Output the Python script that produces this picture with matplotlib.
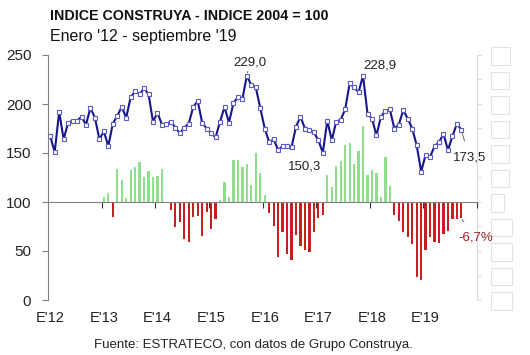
#importing library
import matplotlib.pyplot as plt
import matplotlib.transforms as mtransforms

plt.rcParams['font.family'] = ['Liberation Sans', 'DejaVu Sans']

#index values, monthly, January 2012 to September 2019

indice = [167, 151, 192, 164, 181, 183, 183, 187, 179, 196, 186, 164,
          172, 157, 180, 188, 197, 186, 207, 213, 210, 216, 210, 182,
          191, 179, 180, 182, 176, 170, 176, 180, 197, 203, 181, 175,
          170, 166, 182, 197, 181, 201, 207, 205, 229.0, 219, 217, 196,
          175, 161, 164, 153, 157, 157, 156, 177, 187, 175, 173, 171,
          163, 150.3, 183, 163, 182, 184, 194.5, 221, 217, 212, 228.9, 190,
          185, 168, 187, 193, 194.5, 175, 179, 193.6, 185, 175, 158, 131,
          148, 146, 157, 161, 169.5, 153, 167, 180, 173.5]

#year over year change in %, January 2013 to September 2019

variacion = [1.9, 3.8, -6.0, 13.4, 9.0, 1.5, 13.0, 14.1, 16.5, 10.1, 12.7, 10.4,
             10.7, 13.4, 0.0, -3.3, -10.4, -8.3, -15.2, -16.3, -6.0, -5.7, -13.9, -4.0,
             -11.1, -7.0, 0.7, 8.2, 1.9, 17.2, 17.2, 14.2, 15.6, 7.0, 20.2, 11.7,
             2.9, -4.5, -9.8, -22.4, -12.2, -21.3, -23.8, -13.5, -18.0, -19.7, -20.4, -12.2,
             -6.7, -5.5, 11.1, 6.3, 14.5, 16.9, 23.2, 24.0, 15.4, 20.8, 31.2, 11.1,
             13.0, 12.0, 2.0, 18.3, 6.5, -5.3, -7.7, -12.2, -14.2, -17.2, -30.6, -31.7,
             -19.7, -14.2, -16.3, -16.9, -13.1, -12.0, -6.8, -7.0, -6.7]

etiquetas_anio = ["E'12", "E'13", "E'14", "E'15", "E'16", "E'17", "E'18", "E'19"]

meses = list(range(len(indice)))
meses_var = meses[12:]

fig = plt.figure(figsize=(5.3, 3.55), dpi=100)
ax = fig.add_axes([48 / 530, 1 - 300 / 355, 429 / 530, 245 / 355])
ax2 = ax.twinx()

#bars of the yearly change on the right axis

colores = ['#8fdf8f' if v >= 0 else '#c81e1e' for v in variacion]
ax2.bar(meses_var, variacion, width=0.5, color=colores, linewidth=0)
ax2.set_ylim(-40, 60)
ax2.set_yticks(range(-40, 61, 10))
ax2.set_yticklabels(["%d" % t for t in range(-40, 61, 10)], fontsize=6.5)
for lab in ax2.get_yticklabels():
    lab.set_bbox(dict(facecolor='white', edgecolor='#e2e2e2', pad=3.2, lw=0.8))
ax2.tick_params(axis='y', colors='#dcdcdc', length=3, pad=10, labelcolor='white')
for s in ['top', 'left', 'bottom']:
    ax2.spines[s].set_visible(False)
ax2.spines['right'].set_color('#dcdcdc')

#index line on the left axis

ax.set_zorder(ax2.get_zorder() + 1)
ax.patch.set_visible(False)
ax.plot(meses, indice, color='#16168f', lw=1.5, marker='s', markersize=2.6,
        markerfacecolor='white', markeredgecolor='#5a5ac8', markeredgewidth=0.8)

ax.set_xlim(-0.5, 95.5)
ax.set_ylim(0, 250)
ax.set_yticks(range(0, 251, 50))
ax.tick_params(axis='y', colors='#808080', length=4, pad=8, labelsize=11, labelcolor='#222222')
ax.spines['left'].set_color('#808080')
ax.spines['top'].set_visible(False)
ax.spines['right'].set_visible(False)
ax.spines['bottom'].set_position(('data', 100))
ax.spines['bottom'].set_color('#808080')
ax.set_xticks([11.5 + 12 * k for k in range(8)])
ax.set_xticklabels([])
ax.tick_params(axis='x', colors='#333333', length=4, width=0.8)

trans = mtransforms.blended_transform_factory(ax.transData, ax.transAxes)
for k, lab in enumerate(etiquetas_anio):
    ax.text(12 * k, -0.075, lab, transform=trans, ha='center', va='center',
            fontsize=10.5, color='#222222')

#labels of the notable points

ax.annotate("229,0", (44, indice[44]), xytext=(3, 13), textcoords='offset pixels',
            ha='center', va='center', fontsize=9.5, color='#222222',
            arrowprops=dict(arrowstyle='-', color='#555555', lw=0.6, shrinkA=5, shrinkB=2))
ax.annotate("228,9", (70, indice[70]), xytext=(17, 10), textcoords='offset pixels',
            ha='center', va='center', fontsize=9.5, color='#222222')
ax.annotate("150,3", (61, indice[61]), xytext=(-18, -14), textcoords='offset pixels',
            ha='center', va='center', fontsize=9.5, color='#222222')
ax.annotate("173,5", (92, indice[92]), xytext=(8, -28), textcoords='offset pixels',
            ha='center', va='center', fontsize=9.5, color='#222222',
            arrowprops=dict(arrowstyle='-', color='#555555', lw=0.6, shrinkA=6, shrinkB=2))
ax2.annotate("-6,7%", (92, variacion[-1]), xytext=(14, -19), textcoords='offset pixels',
             ha='center', va='center', fontsize=9.5, color='#9a2222',
             arrowprops=dict(arrowstyle='-', color='#555555', lw=0.6, shrinkA=6, shrinkB=1))

#titles and source

fig.text(50 / 530, 1 - 16 / 355, "INDICE CONSTRUYA - INDICE 2004 = 100", fontsize=10.3,
         fontweight='bold', ha='left', va='center', color='#111111')
fig.text(50 / 530, 1 - 37 / 355, "Enero '12 - septiembre '19", fontsize=11.5,
         ha='left', va='center', color='#111111')
fig.text(253 / 530, 1 - 345 / 355, "Fuente: ESTRATECO, con datos de Grupo Construya.",
         fontsize=9.5, ha='center', va='center', color='#222222')

fig.savefig("out.png", dpi=100)
